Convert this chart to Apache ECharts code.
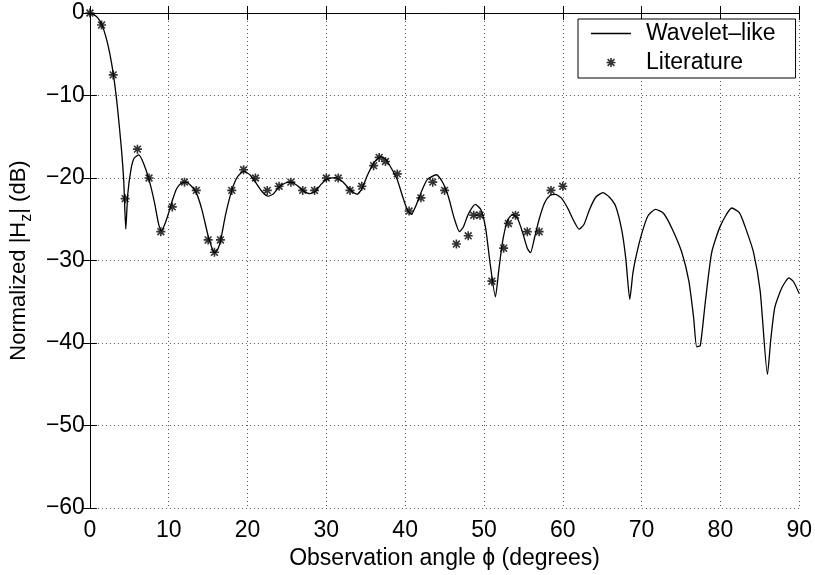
<!DOCTYPE html>
<html><head><meta charset="utf-8">
<script src="https://cdn.jsdelivr.net/npm/echarts@6/dist/echarts.min.js"></script>
<style>html,body{margin:0;padding:0;background:#fff}#c{width:815px;height:575px}</style>
</head><body><div id="c"></div>
<script>
// Wavelet-like curve: [angle (deg), normalized |Hz| (dB)]
var waveletAngles = [0,0.5,1,1.5,2,2.5,3,3.5,4,4.3,4.55,4.8,5.2,5.6,6.2,6.8,7.5,8.2,8.7,9.05,9.5,10,10.5,11,11.5,12.1,12.8,13.5,14.2,15,15.5,15.8,16.2,16.6,17.2,18,18.7,19.5,20.3,21,21.8,22.6,23.3,24,24.8,25.5,26.3,27,27.9,28.6,29.3,30,31.1,32,33,33.9,34.5,35.2,36,36.9,37.6,38.3,39,39.7,40.3,40.8,41.3,42,42.8,43.95,44.8,45.5,46.2,46.9,47.4,48,48.9,49.6,50.2,50.8,51.45,51.9,52.4,53,53.65,54.3,54.9,55.5,55.9,56.4,57,57.7,58.4,59.04,59.8,60.6,61.4,62.07,62.7,63.4,64.2,65.1,65.9,66.7,67.5,68,68.5,68.9,69.3,70,70.8,71.77,72.8,73.9,75.1,76,76.6,77,77.45,78.1,78.9,80,81.46,82.4,83.1,84.2,85.05,85.97,86.4,86.9,87.8,88.7,89.3,90];
var waveletValues = [0,-0.2,-0.6,-1.4,-2.8,-4.8,-7.6,-11.5,-16.5,-20.5,-26.2,-22,-19,-17.6,-17.2,-18.2,-20.2,-23,-25.5,-26.4,-25.6,-24.2,-22.6,-21.3,-20.7,-20.5,-20.9,-21.8,-23.8,-27,-28.5,-29.05,-28.7,-27.5,-24.5,-21.5,-19.9,-19.2,-19.6,-20.5,-21.6,-22.2,-21.9,-21.1,-20.6,-20.5,-20.9,-21.5,-21.9,-21.6,-20.8,-20.2,-19.95,-20.4,-21.4,-21.97,-21.3,-19.7,-18.2,-17.4,-17.8,-18.9,-20.2,-22.3,-23.9,-24.4,-23.5,-21.8,-20.2,-19.6,-20.6,-22.3,-24.8,-26.5,-25.9,-24.4,-23.2,-23.8,-26,-30.5,-34.4,-31,-27.5,-25.1,-24.4,-25,-26.6,-28.5,-29.05,-27.3,-25,-23,-22.1,-21.97,-22.4,-23.6,-25.2,-26.2,-25.6,-23.8,-22.3,-21.77,-22.3,-23.4,-26.4,-29.8,-34.7,-31.5,-29.5,-26.8,-24.6,-23.8,-24.3,-26.2,-29,-32.5,-36.9,-40.45,-40.3,-34.9,-29,-25.8,-23.63,-24.2,-25.8,-29,-33.7,-43.8,-39.5,-35.7,-33.3,-32.1,-32.6,-34];
// Literature points
var litAngles = [0,1.48,2.95,4.47,6.03,7.5,9.0,10.45,12.0,13.5,15.0,15.8,16.56,18.0,19.5,21.0,22.5,24,25.5,27,28.5,30,31.5,33,34.5,36,36.7,37.5,39,40.5,42,43.5,45,46.5,48,48.7,49.5,51,52.5,53.1,54,55.5,57,58.5,60];
var litValues = [0,-1.46,-7.5,-22.5,-16.5,-20,-26.5,-23.5,-20.5,-21.5,-27.5,-29,-27.5,-21.5,-19,-20,-21.5,-21,-20.5,-21.5,-21.5,-20,-20,-21.5,-21,-18.5,-17.5,-18,-19.5,-24,-22.4,-20.5,-21.5,-28,-27,-24.5,-24.5,-32.5,-28.5,-25.5,-24.5,-26.5,-26.5,-21.5,-21];
var xTicks = [0,10,20,30,40,50,60,70,80,90];
var yTicks = [-60,-50,-40,-30,-20,-10,0];
var seriesNames = ['Wavelet\u2013like','Literature'];

var star = 'path://M8.2,0h3.6v20h-3.6z M0,8.2h20v3.6h-20z M1.2,3.7l2.5,-2.5l15.1,15.1l-2.5,2.5z M16.3,1.2l2.5,2.5l-15.1,15.1l-2.5,-2.5z';
var lineIcon = 'path://M0,0h40v1.3h-40z';
var FONT = '"Liberation Sans", Arial, Helvetica, sans-serif';
function fmt(v){ return v < 0 ? '\u2212' + (-v) : String(v); }
function zip(a,b){ return a.map(function(x,i){ return [x,b[i]]; }); }

var chart = echarts.init(document.getElementById('c'), null, {renderer:'canvas'});
var gridLine = {show:true, lineStyle:{color:'#555', type:[1,3], width:1}};
chart.setOption({
  animation:false,
  backgroundColor:'#fff',
  textStyle:{fontFamily:FONT, color:'#000'},
  grid:{left:89, right:14, top:13, bottom:57, containLabel:false},
  legend:{
    orient:'vertical', left:578, top:19,
    padding:[3,20,4,13], itemGap:6, itemWidth:40, itemHeight:9,
    borderColor:'#000', borderWidth:1, backgroundColor:'#fff',
    selectedMode:false,
    textStyle:{fontSize:23, fontFamily:FONT, color:'#000', padding:[0,0,0,10]},
    data:[{name:seriesNames[0], icon:lineIcon},{name:seriesNames[1], icon:star}]
  },
  xAxis:[{
    type:'value', min:xTicks[0], max:xTicks[xTicks.length-1], interval:10, position:'bottom',
    name:'Observation angle \u03d5 (degrees)', nameLocation:'middle', nameGap:35,
    nameTextStyle:{fontSize:23, fontFamily:FONT, color:'#000'},
    axisLine:{show:true, lineStyle:{color:'#000', width:1}},
    axisTick:{show:true, inside:true, length:7, lineStyle:{color:'#000'}},
    axisLabel:{fontSize:23, fontFamily:FONT, color:'#000', margin:11, formatter:fmt},
    splitLine:gridLine
  },{
    type:'value', min:xTicks[0], max:xTicks[xTicks.length-1], interval:10, position:'top',
    axisLine:{show:true, lineStyle:{color:'#000', width:1}},
    axisTick:{show:true, inside:true, length:7, lineStyle:{color:'#000'}},
    axisLabel:{show:false}, splitLine:{show:false}
  }],
  yAxis:[{
    type:'value', min:yTicks[0], max:yTicks[yTicks.length-1], interval:10, position:'left',
    name:'{a|Normalized |H}{s|z}{a|| (dB)}', nameLocation:'middle', nameGap:52, nameRotate:90,
    nameTextStyle:{fontFamily:FONT, color:'#000',
      rich:{a:{fontSize:22, fontFamily:FONT, color:'#000', lineHeight:32, verticalAlign:'middle'},
            s:{fontSize:16, fontFamily:FONT, color:'#000', lineHeight:32, verticalAlign:'bottom'}}},
    axisLine:{show:true, lineStyle:{color:'#000', width:1}},
    axisTick:{show:true, inside:true, length:7, lineStyle:{color:'#000'}},
    axisLabel:{fontSize:23, fontFamily:FONT, color:'#000', margin:5, formatter:fmt},
    splitLine:gridLine
  },{
    type:'value', min:yTicks[0], max:yTicks[yTicks.length-1], interval:10, position:'right',
    axisLine:{show:true, lineStyle:{color:'#000', width:1}},
    axisTick:{show:true, inside:true, length:7, lineStyle:{color:'#000'}},
    axisLabel:{show:false}, splitLine:{show:false}
  }],
  series:[{
    name:seriesNames[0], type:'line', data:zip(waveletAngles, waveletValues),
    symbol:'none', smooth:0.2, lineStyle:{color:'#000', width:1.3}, itemStyle:{color:'#000'}, z:2
  },{
    name:seriesNames[1], type:'scatter', data:zip(litAngles, litValues),
    symbol:star, symbolSize:9, itemStyle:{color:'#000'}, z:3
  }]
});
</script></body></html>
